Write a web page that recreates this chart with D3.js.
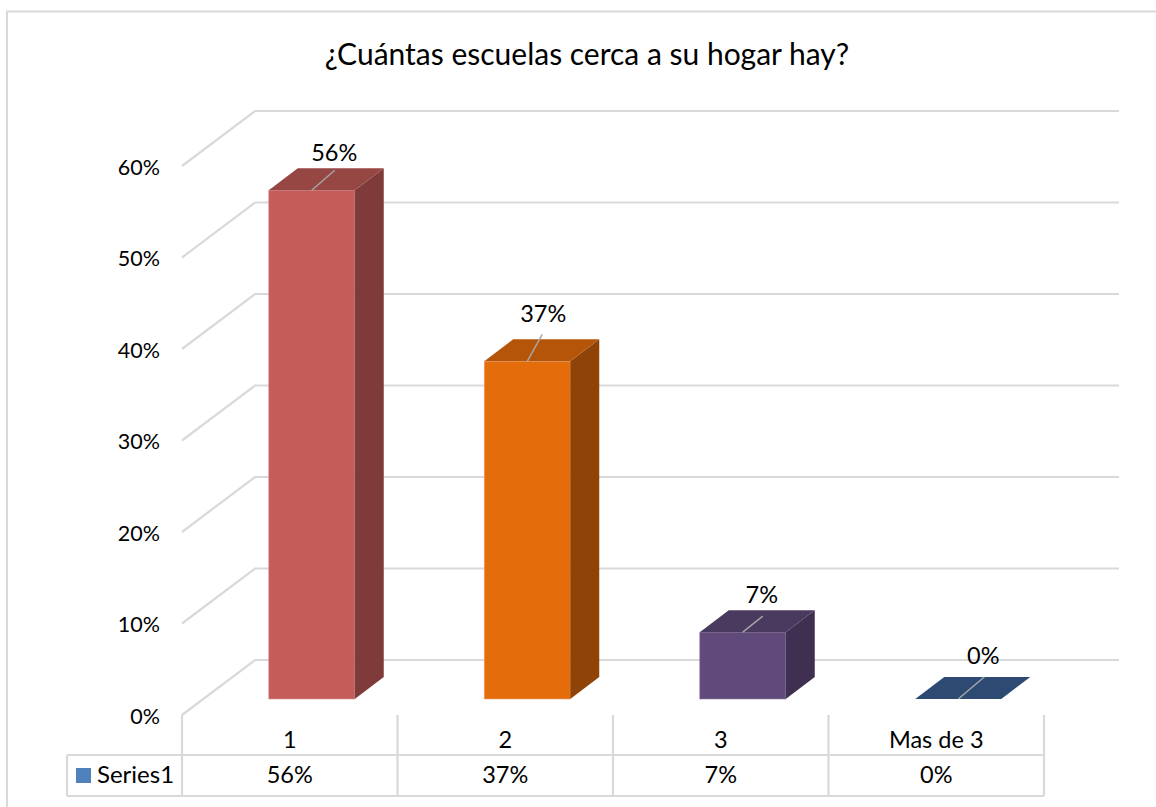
<!DOCTYPE html>
<html><head><meta charset="utf-8">
<script src="https://cdnjs.cloudflare.com/ajax/libs/d3/7.8.5/d3.min.js"></script>
<style>html,body{margin:0;padding:0;background:#fff}svg{display:block}text{font-family:Lato,"Open Sans",sans-serif;fill:#000}</style>
</head><body><svg id="c" width="1156" height="807"></svg>
<script>
const title = "¿Cuántas escuelas cerca a su hogar hay?";
const categories = ["1","2","3","Mas de 3"];
const values = [0.556,0.369,0.073,0];
const tableLabels = ["56%","37%","7%","0%"];
const seriesName = "Series1";
const ticks = [0,0.1,0.2,0.3,0.4,0.5,0.6];
const frontColors = ["#c45c5a","#e46c0a","#604a7b","#1f497d"];
const topColors = ["#964643","#b55509","#4b3a60","#2c4a72"];
const sideColors = ["#7f3b39","#904307","#3f2f50","#1f3a5f"];
const edgeColors = ["#d9928f","#f0a878","#8d7ba3","#5f7fa8"];
const leaderEnds = [[23,-20],[15,-27],[20,-16],[26,-22]];
const labelNudges = [[22.5,-29],[16,-39],[19,-29],[25,-35]];

const svg = d3.select("#c");
const x = d3.scaleBand().domain(categories).range([182,1044]);
const yWall = d3.scaleLinear().domain([0,0.6]).range([715,166]);
const depth = {dx:73,dy:-55}, barDepth = {dx:29,dy:-22};
const floorShift = 22, barBase = 699;
const barScale = d3.scaleLinear().domain([0,0.6]).range([barBase,barBase-549]);
const barW = 86;
const grid = "#d9d9d9";

svg.append("rect").attr("x",7).attr("y",11.5).attr("width",1160).attr("height",810).attr("fill","none").attr("stroke",grid).attr("stroke-width",2);

svg.append("text").attr("x",587).attr("y",65).attr("text-anchor","middle").attr("font-size",30).text(title);

const line = d3.line();
ticks.forEach(t=>{
  const y=yWall(t);
  svg.append("path").attr("fill","none").attr("stroke",grid).attr("stroke-width",2.2)
    .attr("d",line([[182,y],[182+depth.dx,y+depth.dy],[1119,y+depth.dy]]));
  svg.append("text").attr("x",160).attr("y",y+8.5).attr("text-anchor","end").attr("font-size",21.5).text(d3.format(".0%")(t));
});

categories.forEach((c,i)=>{
  const v=values[i], x0=x(c)+(x.step()-barW)/2+floorShift, y1=barScale(v);
  const d=barDepth;
  if(v>0){
    svg.append("rect").attr("x",x0).attr("y",y1).attr("width",barW).attr("height",barBase-y1).attr("fill",frontColors[i])
      .attr("stroke",edgeColors[i]).attr("stroke-width",0.8).attr("stroke-opacity",0.7);
    svg.append("path").attr("fill",sideColors[i]).attr("d",line([[x0+barW,y1],[x0+barW+d.dx,y1+d.dy],[x0+barW+d.dx,barBase+d.dy],[x0+barW,barBase]])+"Z");
  }
  svg.append("path").attr("fill",topColors[i]).attr("d",line([[x0,y1],[x0+d.dx,y1+d.dy],[x0+barW+d.dx,y1+d.dy],[x0+barW,y1]])+"Z");
  const mx=x0+barW/2;
  svg.append("path").attr("fill","none").attr("stroke","#a6a6a6").attr("stroke-width",1.5)
    .attr("d",line([[mx,y1],[mx+leaderEnds[i][0],y1+leaderEnds[i][1]]]));
  svg.append("text").attr("x",mx+labelNudges[i][0]).attr("y",y1+labelNudges[i][1]).attr("text-anchor","middle").attr("font-size",23.5).text(d3.format(".0%")(v));
});

// data table
const rowTop=755,rowBot=796,tableLeft=67;
const tl=(a,b,c,e)=>svg.append("line").attr("x1",a).attr("y1",b).attr("x2",c).attr("y2",e).attr("stroke",grid).attr("stroke-width",2.2);
tl(tableLeft,rowTop,1044,rowTop); tl(tableLeft,rowBot,1044,rowBot); tl(tableLeft,rowTop,tableLeft,rowBot);
categories.forEach((c,i)=>{
  tl(x(c),715,x(c),rowBot);
  svg.append("text").attr("x",x(c)+x.step()/2).attr("y",748).attr("text-anchor","middle").attr("font-size",23.5).text(c);
  svg.append("text").attr("x",x(c)+x.step()/2).attr("y",783).attr("text-anchor","middle").attr("font-size",23.5).text(tableLabels[i]);
});
tl(1044,715,1044,rowBot);
svg.append("rect").attr("x",76).attr("y",768).attr("width",15).attr("height",15).attr("fill","#4f81bd");
svg.append("text").attr("x",97).attr("y",783).attr("font-size",24).text(seriesName);
</script></body></html>
